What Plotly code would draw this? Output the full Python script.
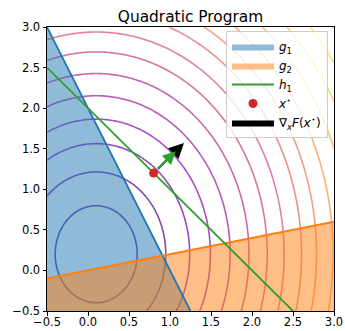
import numpy as np
import plotly.graph_objects as go
from plotly.colors import sample_colorscale

# ---- data ----
x_lim = [-0.5, 3.0]
y_lim = [-0.5, 3.0]
tick_vals = [-0.5, 0.0, 0.5, 1.0, 1.5, 2.0, 2.5, 3.0]

# objective F(x) = w0 (x0 - c0)^2 + w1 (x1 - c1)^2
F_center = [0.1, 0.2]
F_weights = [1.0, 0.7]
F_levels = [0.25, 0.72, 1.30, 1.94, 2.67, 3.47, 4.35, 5.25, 6.27, 7.22,
            8.35, 9.6, 10.9, 12.3, 13.8]

g1_x = [-0.5, 1.25]
g1_y = [3.0, -0.5]
g2_x = [-0.5, 3.0]
g2_y = [-0.1, 0.6]
h1_x = [-0.5, 2.5]
h1_y = [2.5, -0.5]
x_star = [0.8, 1.2]
grad_F = [0.37, 0.37]
grad_h = [0.27, 0.27]

FONT = "DejaVu Sans"

gx = np.linspace(x_lim[0], x_lim[1], 141)
gy = np.linspace(y_lim[0], y_lim[1], 141)
X, Y = np.meshgrid(gx, gy)
Z = F_weights[0] * (X - F_center[0]) ** 2 + F_weights[1] * (Y - F_center[1]) ** 2

n = len(F_levels)
cols = sample_colorscale("Plasma", [0.08 + 0.92 * k / (n - 1) for k in range(n)])


def rgba(c, a):
    r, g, b = [int(float(v)) for v in c[c.index("(") + 1:c.index(")")].split(",")]
    return f"rgba({r},{g},{b},{a})"


fig = go.Figure()
for lvl, c in zip(F_levels, cols):
    fig.add_trace(go.Contour(
        x=gx, y=gy, z=Z,
        contours=dict(start=lvl, end=lvl, size=1, coloring="none"),
        line=dict(color=rgba(c, 0.72), width=1.6),
        showscale=False, hoverinfo="skip", showlegend=False))

# feasible-region fills
fig.add_trace(go.Scatter(
    x=[g1_x[0], g1_x[1], x_lim[0], g1_x[0]],
    y=[g1_y[0], g1_y[1], y_lim[0], g1_y[0]],
    fill="toself", fillcolor="rgba(31,119,180,0.5)", mode="lines",
    line=dict(width=0), name="<i>g</i><sub>1</sub>", hoverinfo="skip"))
fig.add_trace(go.Scatter(
    x=[g2_x[0], g2_x[1], x_lim[1], x_lim[0], g2_x[0]],
    y=[g2_y[0], g2_y[1], y_lim[0], y_lim[0], g2_y[0]],
    fill="toself", fillcolor="rgba(255,127,14,0.5)", mode="lines",
    line=dict(width=0), name="<i>g</i><sub>2</sub>", hoverinfo="skip"))
fig.add_trace(go.Scatter(x=g1_x, y=g1_y, mode="lines",
                         line=dict(color="#1f77b4", width=1.8), showlegend=False))
fig.add_trace(go.Scatter(x=g2_x, y=g2_y, mode="lines",
                         line=dict(color="#ff7f0e", width=2), showlegend=False))
fig.add_trace(go.Scatter(x=h1_x, y=h1_y, mode="lines",
                         line=dict(color="#2ca02c", width=1.8),
                         name="<i>h</i><sub>1</sub>"))
fig.add_trace(go.Scatter(x=[x_star[0]], y=[x_star[1]], mode="markers",
                         marker=dict(color="#d62728", size=9),
                         name="<i>x</i><sup>⋆</sup>"))
fig.add_trace(go.Scatter(x=[None], y=[None], mode="lines", fill="toself",
                         fillcolor="black", line=dict(width=0, color="black"),
                         name="∇<sub><i>x</i></sub><i>F</i>(<i>x</i><sup>⋆</sup>)"))

# gradient arrows (black first, green on top)
for g, col, sz in [(grad_F, "black", 1.5), (grad_h, "#2ca02c", 1.3)]:
    fig.add_annotation(x=x_star[0] + g[0], y=x_star[1] + g[1],
                       ax=x_star[0], ay=x_star[1], axref="x", ayref="y",
                       xref="x", yref="y", text="", showarrow=True,
                       arrowhead=2, arrowsize=sz, arrowwidth=2,
                       arrowcolor=col, startstandoff=4)

axis_common = dict(
    tickvals=tick_vals, tickformat=".1f", ticks="outside", ticklen=3.5,
    tickwidth=0.8, tickcolor="black", showline=True, linecolor="black",
    linewidth=1, mirror=True, showgrid=False, zeroline=False, automargin=False,
    tickfont=dict(family=FONT, size=11.5, color="black"))

fig.update_layout(
    width=345, height=331,
    margin=dict(l=47, r=11, t=27, b=20),
    plot_bgcolor="white", paper_bgcolor="white",
    title=dict(text="Quadratic Program", x=0.5, xref="paper", y=1,
               yref="paper", yanchor="bottom", xanchor="center",
               pad=dict(b=5), font=dict(family=FONT, size=15.4, color="black")),
    xaxis=dict(range=x_lim, ticklabelstandoff=-3, **axis_common),
    yaxis=dict(range=y_lim, **axis_common),
    legend=dict(x=0.979, y=0.986, xanchor="right", yanchor="top",
                bgcolor="rgba(255,255,255,0.8)", bordercolor="#cccccc",
                borderwidth=1, itemwidth=42,
                font=dict(family=FONT, size=12, color="black")),
    showlegend=True,
)

fig.write_html("out.html")
